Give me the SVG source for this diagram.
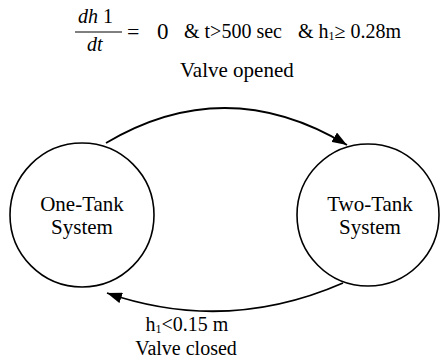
<svg xmlns="http://www.w3.org/2000/svg" width="443" height="362" viewBox="0 0 443 362">
<style>
text{font-family:"Liberation Serif","Times New Roman",serif;fill:#000}
.node{fill:#fff;stroke:#000;stroke-width:1.6}
.edge{fill:none;stroke:#000;stroke-width:1.8}
.lbl{font-size:20px}
.nl{font-size:21px;text-anchor:middle}
</style>
<defs>
<marker id="arr" markerUnits="userSpaceOnUse" markerWidth="15" markerHeight="11" refX="15" refY="5.5" orient="auto">
<path d="M0,0 L15,5.5 L0,11 z" fill="#000"/>
</marker>
</defs>
<g id="connectors">
<path class="edge" d="M106,143 Q226,72 347,145" marker-end="url(#arr)"/>
<path class="edge" d="M343,283 Q226,334 107,293" marker-end="url(#arr)"/>
</g>
<g id="one-tank">
<circle class="node" cx="82" cy="215" r="72"/>
<text class="nl" x="82" y="211">One-Tank</text>
<text class="nl" x="82" y="234">System</text>
</g>
<g id="two-tank">
<circle class="node" cx="368" cy="215" r="71"/>
<text class="nl" x="370" y="211">Two-Tank</text>
<text class="nl" x="370" y="234">System</text>
</g>
<g id="label-open">
<text class="lbl" x="78" y="23"><tspan font-style="italic">dh</tspan> 1</text>
<line x1="75" y1="32" x2="122" y2="32" stroke="#000" stroke-width="1"/>
<text class="lbl" x="87" y="51" font-style="italic">dt</text>
<text x="127" y="39" font-size="22">=</text>
<text x="157" y="39" font-size="23">0</text>
<text class="lbl" x="184" y="38">&amp; t&gt;500 sec</text>
<text class="lbl" x="298" y="38">&amp; h<tspan font-size="12" dy="2">1</tspan><tspan dy="-2">≥ 0.28m</tspan></text>
<text x="180" y="77" font-size="21">Valve opened</text>
</g>
<g id="label-close">
<text class="lbl" x="187" y="331" text-anchor="middle">h<tspan font-size="12" dy="2">1</tspan><tspan dy="-2">&lt;0.15 m</tspan></text>
<text class="lbl" x="186" y="355" text-anchor="middle">Valve closed</text>
</g>
</svg>
